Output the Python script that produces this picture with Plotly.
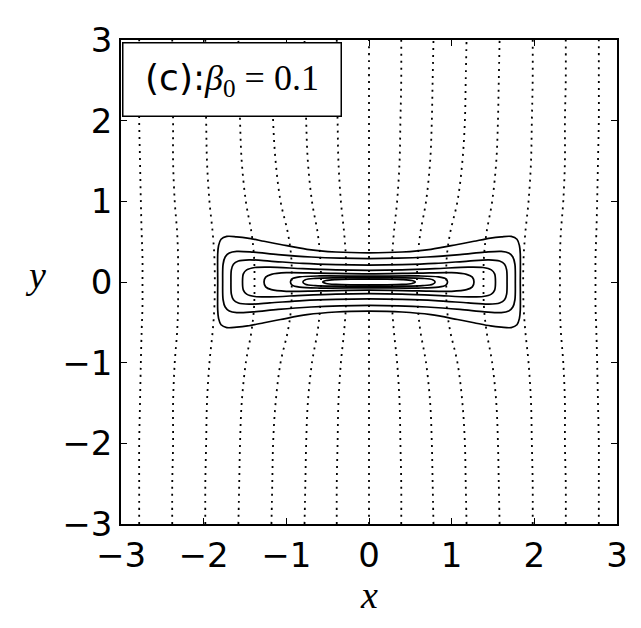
import plotly.graph_objects as go

# ---- data ----
tick_vals = [-3, -2, -1, 0, 1, 2, 3]
tick_text = ["\u22123", "\u22122", "\u22121", "0", "1", "2", "3"]

# dotted field lines: x position at each |y| (upper half; lower half symmetric)
field_y = [0.0, 0.3, 0.6, 1.0, 1.5, 2.0, 2.5, 3.0]
field_x_left = [
    [-2.74, -2.74, -2.75, -2.76, -2.77, -2.78, -2.78, -2.78],
    [-2.31, -2.31, -2.32, -2.35, -2.37, -2.37, -2.38, -2.38],
    [-1.865, -1.87, -1.89, -1.93, -1.96, -1.97, -1.98, -1.98],
    [-1.385, -1.39, -1.42, -1.49, -1.54, -1.56, -1.57, -1.58],
    [-0.935, -0.94, -0.98, -1.07, -1.13, -1.16, -1.17, -1.18],
    [-0.58, -0.59, -0.62, -0.69, -0.74, -0.76, -0.77, -0.78],
    [-0.28, -0.28, -0.30, -0.34, -0.37, -0.38, -0.39, -0.39],
]
field_x_center = [0.0, 0.0, 0.0, 0.0, 0.0, 0.0, 0.0, 0.0]

# closed solid contours: upper-left quarter (from left tip to top centre)
contour_qx = [
    [-1.83, -1.83, -1.82, -1.79, -1.72, -1.60, -1.47, -1.27, -1.07, -0.75, -0.40, 0.0],
    [-1.77, -1.765, -1.74, -1.69, -1.60, -1.40, -1.10, -0.70, -0.35, 0.0],
    [-1.67, -1.665, -1.64, -1.58, -1.45, -1.20, -0.80, -0.40, 0.0],
    [-1.53, -1.52, -1.48, -1.38, -1.20, -0.80, -0.40, 0.0],
    [-1.27, -1.25, -1.18, -1.00, -0.60, 0.0],
    [-0.95, -0.93, -0.84, -0.60, 0.0],
    [-0.80, -0.77, -0.65, -0.40, 0.0],
    [-0.56, -0.52, -0.40, -0.20, 0.0],
]
contour_qy = [
    [0.0, 0.35, 0.45, 0.53, 0.565, 0.56, 0.545, 0.505, 0.465, 0.405, 0.372, 0.362],
    [0.0, 0.22, 0.31, 0.36, 0.38, 0.37, 0.34, 0.31, 0.295, 0.29],
    [0.0, 0.15, 0.22, 0.26, 0.275, 0.26, 0.23, 0.215, 0.21],
    [0.0, 0.10, 0.15, 0.18, 0.185, 0.165, 0.15, 0.145],
    [0.0, 0.06, 0.095, 0.115, 0.11, 0.10],
    [0.0, 0.038, 0.063, 0.075, 0.072],
    [0.0, 0.028, 0.045, 0.052, 0.052],
    [0.0, 0.018, 0.03, 0.035, 0.036],
]

label_text = ("(c):<span style='font-family:Liberation Serif;font-size:36px'>"
              "<i>\u03b2</i><sub>0</sub> = 0.1</span>")

fig = go.Figure()

def field_line(xs_half):
    ys = [-v for v in field_y[::-1]] + field_y[1:]
    xs = xs_half[::-1] + xs_half[1:]
    return xs, ys

all_lines = field_x_left + [field_x_center] + [[-v for v in row] for row in field_x_left[::-1]]
for row in all_lines:
    xs, ys = field_line(row)
    fig.add_trace(go.Scatter(x=xs, y=ys, mode="lines", line_shape="spline",
                             line=dict(color="black", width=1.8, dash="2px,5px"),
                             hoverinfo="skip", showlegend=False))

for qx, qy in zip(contour_qx, contour_qy):
    tr_x = [-v for v in qx[::-1]][1:]
    tr_y = qy[::-1][1:]
    br_x = [-v for v in qx][1:]
    br_y = [-v for v in qy][1:]
    bl_x = qx[::-1][1:]
    bl_y = [-v for v in qy[::-1]][1:]
    xs = qx + tr_x + br_x + bl_x
    ys = qy + tr_y + br_y + bl_y
    fig.add_trace(go.Scatter(x=xs, y=ys, mode="lines", line_shape="spline",
                             line=dict(color="black", width=1.7, smoothing=0.9),
                             hoverinfo="skip", showlegend=False))

axis_common = dict(range=[-3, 3], showgrid=False, zeroline=False, showline=True,
                   mirror="ticks", linecolor="black", linewidth=1.8,
                   ticks="inside", ticklen=6, tickwidth=1, tickcolor="black",
                   tickvals=tick_vals, ticktext=tick_text,
                   tickfont=dict(family="DejaVu Sans", size=34, color="black"))

# page body has an 8px margin, so the figure is 8px smaller than the window
fig.update_layout(
    width=633, height=620,
    margin=dict(l=113, r=24, t=21, b=104),
    paper_bgcolor="white", plot_bgcolor="white",
    xaxis=axis_common, yaxis=axis_common,
    annotations=[
        dict(text=label_text, xref="paper", yref="paper", x=0.0014, y=0.996,
             xanchor="left", yanchor="top", showarrow=False,
             width=217, height=72, borderpad=0, bordercolor="black", borderwidth=1.5,
             bgcolor="white", align="center",
             font=dict(family="DejaVu Sans", size=36, color="black")),
        dict(text="<i>x</i>", xref="paper", yref="paper", x=0.5, y=-0.146,
             xanchor="center", yanchor="middle", showarrow=False,
             font=dict(family="Liberation Serif", size=38, color="black")),
        dict(text="<i>y</i>", xref="paper", yref="paper", x=-0.173, y=0.514,
             xanchor="center", yanchor="middle", showarrow=False,
             font=dict(family="Liberation Serif", size=38, color="black")),
    ],
)

fig.write_html("out.html")
